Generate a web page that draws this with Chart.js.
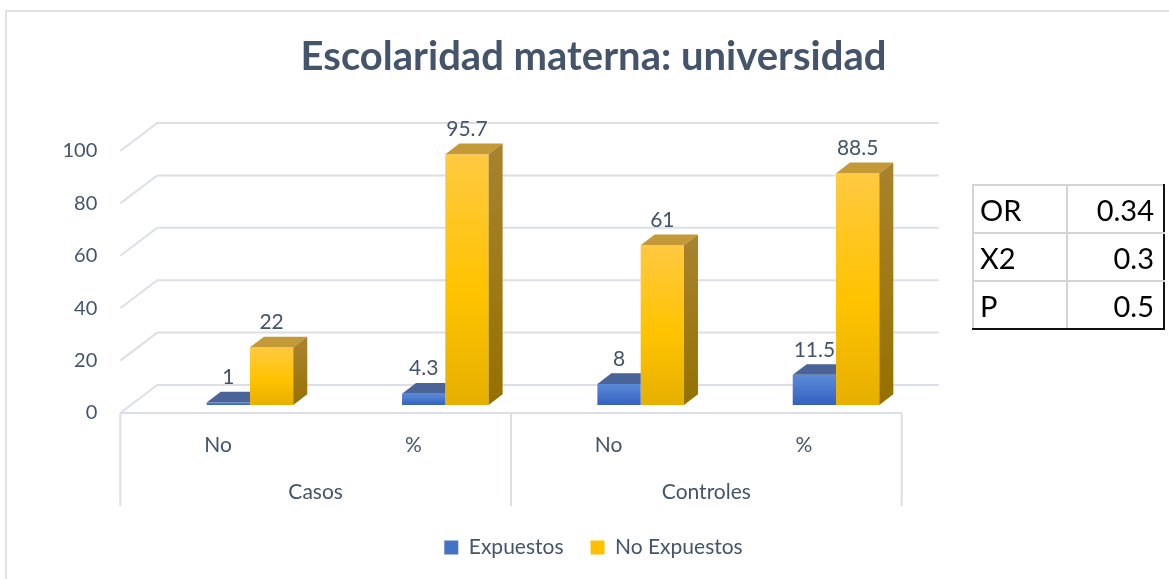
<!DOCTYPE html>
<html>
<head>
<meta charset="utf-8">
<script src="https://cdn.jsdelivr.net/npm/chart.js@4.4.1/dist/chart.umd.min.js"></script>
<style>
  body { margin: 0; background: #fff; }
  #wrap { position: relative; width: 1169px; height: 579px; overflow: hidden; }
  #frame { position: absolute; left: 5px; top: 10px; width: 1200px; height: 620px;
           border-left: 2px solid #dfe2e7; border-top: 2px solid #dfe2e7; }
  #chart { position: absolute; left: 0; top: 0; }
  #tabla { position: absolute; left: 972px; top: 184px; border-collapse: collapse;
           font-family: Lato, sans-serif; font-size: 29px; color: #000; }
  #tabla td { border: 2px solid #d4d4d4; height: 46px; padding: 0 8px; }
  #tabla td.n { width: 78px; text-align: left; padding-left: 6px; }
  #tabla td.v { width: 78px; text-align: right; border-right: 2px solid #111; padding-right: 9px; }
  #tabla tr:last-child td { border-bottom: 2px solid #111; }
</style>
</head>
<body>
<div id="wrap">
  <div id="frame"></div>
  <canvas id="chart" width="1169" height="579"></canvas>
  <table id="tabla"></table>
</div>
<script>
// datos
const categorias = ['No', '%', 'No', '%'];
const grupos = ['Casos', 'Controles'];
const expuestos = [1, 4.3, 8, 11.5];
const noExpuestos = [22, 95.7, 61, 88.5];
const tablaNombres = ['OR', 'X2', 'P'];
const tablaValores = ['0.34', '0.3', '0.5'];

const textColor = '#44546a';
const gridColor = '#dcdfe5';
// desplazamientos de la vista 3D
const depthX = 37, depthY = 28;    // fondo del piso
const frontDx = -32, frontDy = 8;  // plano de barras -> plano frontal
const barDx = 14, barDy = 10.7;    // profundidad de cada barra

// tabla OR / X2 / P
const tabla = document.getElementById('tabla');
for (let i = 0; i < tablaNombres.length; i++) {
  const tr = document.createElement('tr');
  tr.innerHTML = '<td class="n">' + tablaNombres[i] + '</td><td class="v">' + tablaValores[i] + '</td>';
  tabla.appendChild(tr);
}

function degradado(c1, c2, c3) {
  return function(context) {
    const chart = context.chart;
    if (!chart.chartArea || context.type !== 'data') return c2;
    const y = chart.scales.y;
    const top = y.getPixelForValue(context.raw);
    const bottom = y.getPixelForValue(0);
    const g = chart.ctx.createLinearGradient(0, top, 0, bottom);
    g.addColorStop(0, c1);
    g.addColorStop(0.55, c2);
    g.addColorStop(1, c3);
    return g;
  };
}

function poligono(ctx, pts, fill) {
  ctx.beginPath();
  ctx.moveTo(pts[0][0], pts[0][1]);
  for (let i = 1; i < pts.length; i++) ctx.lineTo(pts[i][0], pts[i][1]);
  ctx.closePath();
  ctx.fillStyle = fill;
  ctx.fill();
}

const fondo3d = {
  id: 'fondo3d',
  beforeDatasetsDraw(chart) {
    const ctx = chart.ctx, a = chart.chartArea, y = chart.scales.y, x = chart.scales.x;
    const fl = a.left + frontDx, fr = a.right + frontDx;
    const p0 = y.getPixelForValue(0) + frontDy;
    ctx.save();
    ctx.strokeStyle = gridColor;
    ctx.lineWidth = 2;
    y.ticks.forEach(t => {
      const py = y.getPixelForValue(t.value) + frontDy;
      ctx.beginPath();
      ctx.moveTo(fl, py);
      ctx.lineTo(fl + depthX, py - depthY);
      ctx.lineTo(fr + depthX, py - depthY);
      ctx.stroke();
    });
    ctx.beginPath();
    ctx.moveTo(fl, p0);
    ctx.lineTo(fr, p0);
    ctx.stroke();
    // divisiones de grupos
    const mid = (x.getPixelForValue(1) + x.getPixelForValue(2)) / 2 + frontDx;
    [fl, mid, fr].forEach(px => {
      ctx.beginPath();
      ctx.moveTo(px, p0);
      ctx.lineTo(px, p0 + 93);
      ctx.stroke();
    });
    ctx.fillStyle = textColor;
    ctx.font = '21px Lato';
    ctx.textAlign = 'center';
    ctx.textBaseline = 'middle';
    for (let g = 0; g < grupos.length; g++) {
      const gx = (x.getPixelForValue(g * 2) + x.getPixelForValue(g * 2 + 1)) / 2 + frontDx;
      ctx.fillText(grupos[g], gx, p0 + 79);
    }
    ctx.restore();
  },
  afterDatasetsDraw(chart) {
    const ctx = chart.ctx;
    ctx.save();
    // caras de las barras amarillas
    chart.getDatasetMeta(1).data.forEach(bar => {
      const p = bar.getProps(['x', 'y', 'base', 'width'], true);
      const l = p.x - p.width / 2, r = p.x + p.width / 2;
      poligono(ctx, [[l, p.y], [r, p.y], [r + barDx, p.y - barDy], [l + barDx, p.y - barDy]], '#c49a38');
      const g = ctx.createLinearGradient(0, p.y, 0, p.base);
      g.addColorStop(0, '#a8822c');
      g.addColorStop(1, '#957100');
      poligono(ctx, [[r, p.y], [r + barDx, p.y - barDy], [r + barDx, p.base - barDy], [r, p.base]], g);
    });
    // cara superior azul, tapada por la barra amarilla
    chart.getDatasetMeta(0).data.forEach(bar => {
      const p = bar.getProps(['x', 'y', 'base', 'width'], true);
      const l = p.x - p.width / 2, r = p.x + p.width / 2;
      poligono(ctx, [[l, p.y], [r, p.y], [r, p.y - barDy], [l + barDx, p.y - barDy]], '#4a6399');
    });
    // etiquetas de valores
    ctx.fillStyle = textColor;
    ctx.font = '21px Lato';
    ctx.textAlign = 'center';
    ctx.textBaseline = 'middle';
    [0, 1].forEach(d => {
      const vals = chart.data.datasets[d].data;
      chart.getDatasetMeta(d).data.forEach((bar, i) => {
        const p = bar.getProps(['x', 'y'], true);
        ctx.fillText(String(vals[i]), p.x, p.y - 25);
      });
    });
    ctx.restore();
  }
};

const leyendaColores = ['#4472c4', '#ffc000'];

new Chart(document.getElementById('chart'), {
  type: 'bar',
  data: {
    labels: categorias,
    datasets: [{
      label: 'Expuestos',
      data: expuestos,
      backgroundColor: degradado('#5b8ad8', '#4674cc', '#3560bf'),
      borderWidth: 0,
      barPercentage: 1,
      categoryPercentage: 0.4433
    }, {
      label: 'No Expuestos',
      data: noExpuestos,
      backgroundColor: degradado('#ffc941', '#ffc300', '#e6b000'),
      borderWidth: 0,
      barPercentage: 1,
      categoryPercentage: 0.4433
    }]
  },
  options: {
    responsive: false,
    animation: false,
    events: [],
    layout: { padding: { left: 18, right: 0, top: 0, bottom: 11 } },
    scales: {
      x: {
        grid: { display: false, drawTicks: false },
        border: { display: false },
        ticks: {
          color: textColor,
          font: { family: 'Lato', size: 21 },
          padding: 28,
          labelOffset: frontDx,
          maxRotation: 0,
          autoSkip: false
        },
        afterFit(s) { s.height = 105; }
      },
      y: {
        min: 0,
        max: 100,
        grid: { display: false, drawTicks: false },
        border: { display: false },
        ticks: {
          stepSize: 20,
          color: textColor,
          font: { family: 'Lato', size: 20 },
          padding: 55,
          labelOffset: frontDy
        },
        afterFit(s) { s.width = 134.3; }
      },
      y2: {
        position: 'right',
        grid: { display: false, drawTicks: false },
        border: { display: false },
        ticks: { display: false },
        afterFit(s) { s.width = 235.3; }
      }
    },
    plugins: {
      title: {
        display: true,
        text: 'Escolaridad materna: universidad',
        color: textColor,
        font: { family: 'Lato', size: 40, weight: 'bold' },
        padding: { top: 33, bottom: 62 }
      },
      legend: {
        position: 'bottom',
        labels: {
          color: textColor,
          font: { family: 'Lato', size: 21 },
          boxWidth: 14,
          boxHeight: 14,
          padding: 27,
          generateLabels(chart) {
            return Chart.defaults.plugins.legend.labels.generateLabels(chart).map(l => {
              l.fillStyle = leyendaColores[l.datasetIndex];
              l.strokeStyle = leyendaColores[l.datasetIndex];
              l.lineWidth = 0;
              return l;
            });
          }
        }
      },
      tooltip: { enabled: false }
    }
  },
  plugins: [fondo3d]
});
</script>
</body>
</html>
